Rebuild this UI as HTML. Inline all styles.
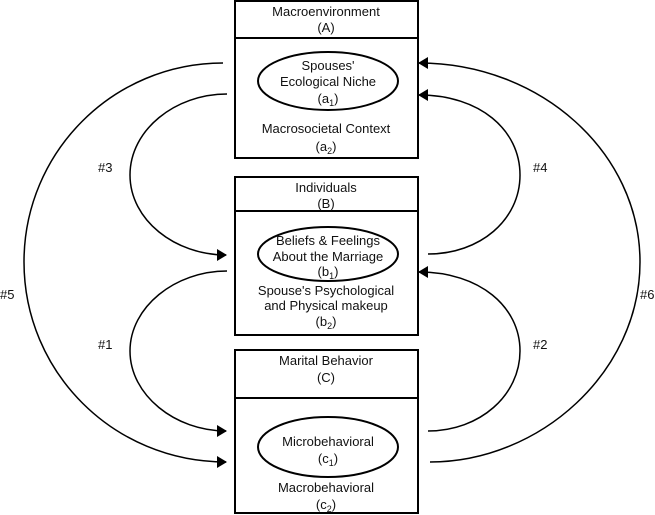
<!DOCTYPE html>
<html><head><style>
html,body{margin:0;padding:0;background:#fff;}
svg{display:block;}
text{font-family:"Liberation Sans",sans-serif;font-size:13px;fill:#111;}
</style></head><body>
<svg width="655" height="515" viewBox="0 0 655 515" xmlns="http://www.w3.org/2000/svg">
<defs>
<marker id="ah" markerWidth="10" markerHeight="12" refX="9" refY="6" orient="auto" markerUnits="userSpaceOnUse">
<path d="M0,0 L10,6 L0,12 Z" fill="#000"/>
</marker>
</defs>
<g fill="none" stroke="#000" stroke-width="2">
<rect x="235" y="1" width="183" height="157"/>
<line x1="235" y1="38" x2="418" y2="38"/>
<rect x="235" y="177" width="183" height="158"/>
<line x1="235" y1="211" x2="418" y2="211"/>
<rect x="235" y="350" width="183" height="163"/>
<line x1="235" y1="398" x2="418" y2="398"/>
<ellipse cx="328" cy="81" rx="70" ry="29"/>
<ellipse cx="328" cy="254" rx="70" ry="27"/>
<ellipse cx="328" cy="447" rx="70" ry="30"/>
</g>
<g fill="none" stroke="#000" stroke-width="1.5">
<path d="M223,63 C113,63 24,152 24,262 C24,372 113,462 226,462" marker-end="url(#ah)"/>
<path d="M227,94 C175,94 130,130 130,175 C130,220 175,255 226,255" marker-end="url(#ah)"/>
<path d="M227,271 C175,271 130,307 130,351 C130,395 175,431 226,431" marker-end="url(#ah)"/>
<path d="M430,462 C540,462 640,372 640,262 C640,152 540,63 419,63" marker-end="url(#ah)"/>
<path d="M428,254 C480,254 520,220 520,175 C520,130 480,95 419,95" marker-end="url(#ah)"/>
<path d="M428,431 C480,431 520,395 520,351 C520,307 480,272 419,272" marker-end="url(#ah)"/>
</g>
<g text-anchor="middle">
<text x="326" y="16">Macroenvironment</text>
<text x="326" y="32">(A)</text>
<text x="328" y="70">Spouses'</text>
<text x="328" y="86">Ecological Niche</text>
<text x="328" y="103">(a<tspan font-size="9" dy="3">1</tspan><tspan dy="-3">)</tspan></text>
<text x="326" y="133">Macrosocietal Context</text>
<text x="326" y="151">(a<tspan font-size="9" dy="3">2</tspan><tspan dy="-3">)</tspan></text>
<text x="326" y="192">Individuals</text>
<text x="326" y="208">(B)</text>
<text x="328" y="245">Beliefs &amp; Feelings</text>
<text x="328" y="261">About the Marriage</text>
<text x="328" y="276">(b<tspan font-size="9" dy="3">1</tspan><tspan dy="-3">)</tspan></text>
<text x="326" y="295">Spouse's Psychological</text>
<text x="326" y="310">and Physical makeup</text>
<text x="326" y="326">(b<tspan font-size="9" dy="3">2</tspan><tspan dy="-3">)</tspan></text>
<text x="326" y="365">Marital Behavior</text>
<text x="326" y="382">(C)</text>
<text x="328" y="446">Microbehavioral</text>
<text x="328" y="463">(c<tspan font-size="9" dy="3">1</tspan><tspan dy="-3">)</tspan></text>
<text x="326" y="492">Macrobehavioral</text>
<text x="326" y="509">(c<tspan font-size="9" dy="3">2</tspan><tspan dy="-3">)</tspan></text>
</g>
<text x="98" y="172">#3</text>
<text x="98" y="349">#1</text>
<text x="0" y="299">#5</text>
<text x="533" y="172">#4</text>
<text x="533" y="349">#2</text>
<text x="640" y="299">#6</text>
</svg>
</body></html>
